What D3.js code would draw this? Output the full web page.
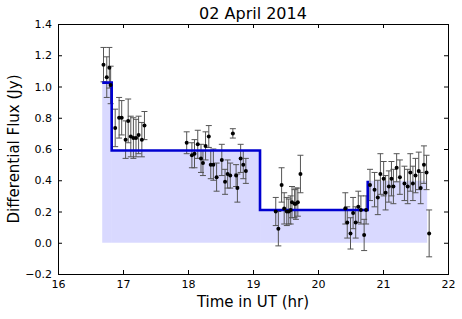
<!DOCTYPE html>
<html><head><meta charset="utf-8">
<script src="https://cdn.jsdelivr.net/npm/d3@7"></script>
<style>body{margin:0;background:#fff}svg{display:block}text{font-family:"DejaVu Sans",sans-serif}</style>
</head><body>
<svg id="c" width="462" height="319"></svg>
<script>
// Observations
const times = [16.70,16.75,16.79,16.81,16.88,16.94,16.98,17.04,17.08,17.12,17.16,17.20,17.24,17.29,17.33,
  17.98,18.06,18.10,18.15,18.20,18.23,18.27,18.32,18.35,18.39,18.44,18.52,18.57,18.61,18.65,18.69,18.74,18.76,18.81,18.85,18.89,
  19.35,19.39,19.44,19.48,19.52,19.55,19.58,19.60,19.64,19.66,19.69,19.73,
  20.42,20.45,20.50,20.54,20.58,20.62,20.66,20.71,20.74,20.80,20.87,
  20.92,20.96,21.01,21.04,21.09,21.13,21.16,21.21,21.26,21.33,21.38,21.42,21.46,21.50,21.55,21.58,21.63,21.67,21.71];
const fluxes = [1.14,1.06,1.12,1.01,0.735,0.80,0.80,0.66,0.78,0.68,0.67,0.67,0.69,0.66,0.75,
  0.64,0.56,0.57,0.63,0.54,0.51,0.62,0.68,0.50,0.50,0.42,0.53,0.39,0.44,0.43,0.70,0.43,0.35,0.54,0.50,0.46,
  0.20,0.09,0.37,0.22,0.20,0.20,0.21,0.26,0.25,0.25,0.26,0.44,
  0.22,0.13,0.06,0.19,0.13,0.23,0.21,0.05,0.21,0.37,0.34,
  0.29,0.44,0.41,0.32,0.36,0.41,0.36,0.48,0.42,0.38,0.36,0.45,0.38,0.43,0.46,0.35,0.50,0.45,0.06];
const errors = [0.11,0.13,0.13,0.12,0.12,0.13,0.11,0.12,0.14,0.13,0.13,0.12,0.12,0.11,0.09,
  0.07,0.08,0.09,0.09,0.09,0.08,0.09,0.07,0.09,0.10,0.09,0.10,0.08,0.09,0.08,0.03,0.07,0.09,0.09,0.09,0.08,
  0.09,0.11,0.11,0.10,0.09,0.08,0.09,0.10,0.09,0.10,0.09,0.12,
  0.10,0.10,0.10,0.10,0.10,0.10,0.09,0.10,0.09,0.10,0.11,
  0.11,0.13,0.11,0.11,0.10,0.11,0.11,0.09,0.11,0.11,0.11,0.12,0.11,0.11,0.12,0.10,0.12,0.11,0.15];
// Blocks (step model)
const blockStarts = [16.68,16.826,19.108,20.765];
const blockEnds   = [16.826,19.108,20.765,21.68];
const blockValues = [1.025,0.59,0.21,0.397];
const xTicks = [16,17,18,19,20,21,22];
const yTicks = [-0.2,0,0.2,0.4,0.6,0.8,1.0,1.2,1.4];

const L=58,R=448,T=24,B=274;
const svg=d3.select("#c");
const x=d3.scaleLinear().domain([16,22]).range([L,R]);
const y=d3.scaleLinear().domain([-0.2,1.4]).range([B,T]);

// fills
svg.append("g").selectAll("rect").data(blockValues).join("rect")
  .attr("x",(d,i)=>x(blockStarts[i])).attr("width",(d,i)=>x(blockEnds[i])-x(blockStarts[i]))
  .attr("y",d=>y(d)).attr("height",d=>y(0)-y(d))
  .attr("fill","#0000ff").attr("fill-opacity",0.15);

// error bars
const pts=times.map((t,i)=>({t,f:fluxes[i],e:errors[i]}));
const eb=svg.append("g").attr("stroke","#555").attr("stroke-width",1);
pts.forEach(p=>{
  const xx=x(p.t);
  eb.append("line").attr("x1",xx).attr("x2",xx).attr("y1",y(p.f-p.e)).attr("y2",y(p.f+p.e));
  eb.append("line").attr("x1",xx-3).attr("x2",xx+3).attr("y1",y(p.f-p.e)).attr("y2",y(p.f-p.e));
  eb.append("line").attr("x1",xx-3).attr("x2",xx+3).attr("y1",y(p.f+p.e)).attr("y2",y(p.f+p.e));
});

// step line
const stepPts=[];
blockValues.forEach((v,i)=>{
  if(i<blockValues.length-1){stepPts.push([blockStarts[i],v]);stepPts.push([blockEnds[i],v]);}
  else stepPts.push([blockStarts[i],v]);
});
svg.append("path").attr("d",d3.line().x(d=>x(d[0])).y(d=>y(d[1]))(stepPts))
  .attr("fill","none").attr("stroke","#0000d0").attr("stroke-width",2.6);

// points
svg.append("g").selectAll("circle").data(pts).join("circle")
  .attr("cx",d=>x(d.t)).attr("cy",d=>y(d.f)).attr("r",2).attr("fill","#000");

// axes (inward ticks on all sides)
const fmt=d=>d3.format(".1f")(d).replace("-","\u2212");
svg.append("g").attr("transform",`translate(0,${B})`)
  .call(d3.axisBottom(x).tickValues(xTicks).tickSize(-4).tickPadding(6).tickFormat(d3.format("d")))
  .call(g=>{g.select(".domain").remove();g.selectAll("text").attr("font-size",11).attr("font-family","DejaVu Sans");});
svg.append("g").attr("transform",`translate(0,${T})`)
  .call(d3.axisTop(x).tickValues(xTicks).tickSize(-4).tickFormat(""))
  .call(g=>g.select(".domain").remove());
svg.append("g").attr("transform",`translate(${L},0)`)
  .call(d3.axisLeft(y).tickValues(yTicks).tickSize(-4).tickPadding(6).tickFormat(fmt))
  .call(g=>{g.select(".domain").remove();g.selectAll("text").attr("font-size",11).attr("font-family","DejaVu Sans");});
svg.append("g").attr("transform",`translate(${R},0)`)
  .call(d3.axisRight(y).tickValues(yTicks).tickSize(-4).tickFormat(""))
  .call(g=>g.select(".domain").remove());
svg.append("rect").attr("x",L+0.5).attr("y",T+0.5).attr("width",R-L).attr("height",B-T)
  .attr("fill","none").attr("stroke","#000").attr("stroke-width",1);

svg.append("text").attr("x",(L+R)/2).attr("y",19).attr("text-anchor","middle").attr("font-size",16).text("02 April 2014");
svg.append("text").attr("x",(L+R)/2).attr("y",307).attr("text-anchor","middle").attr("font-size",15).text("Time in UT (hr)");
svg.append("text").attr("transform",`translate(19,${(T+B)/2}) rotate(-90)`).attr("text-anchor","middle").attr("font-size",15).text("Differential Flux (Jy)");
</script>
</body></html>
